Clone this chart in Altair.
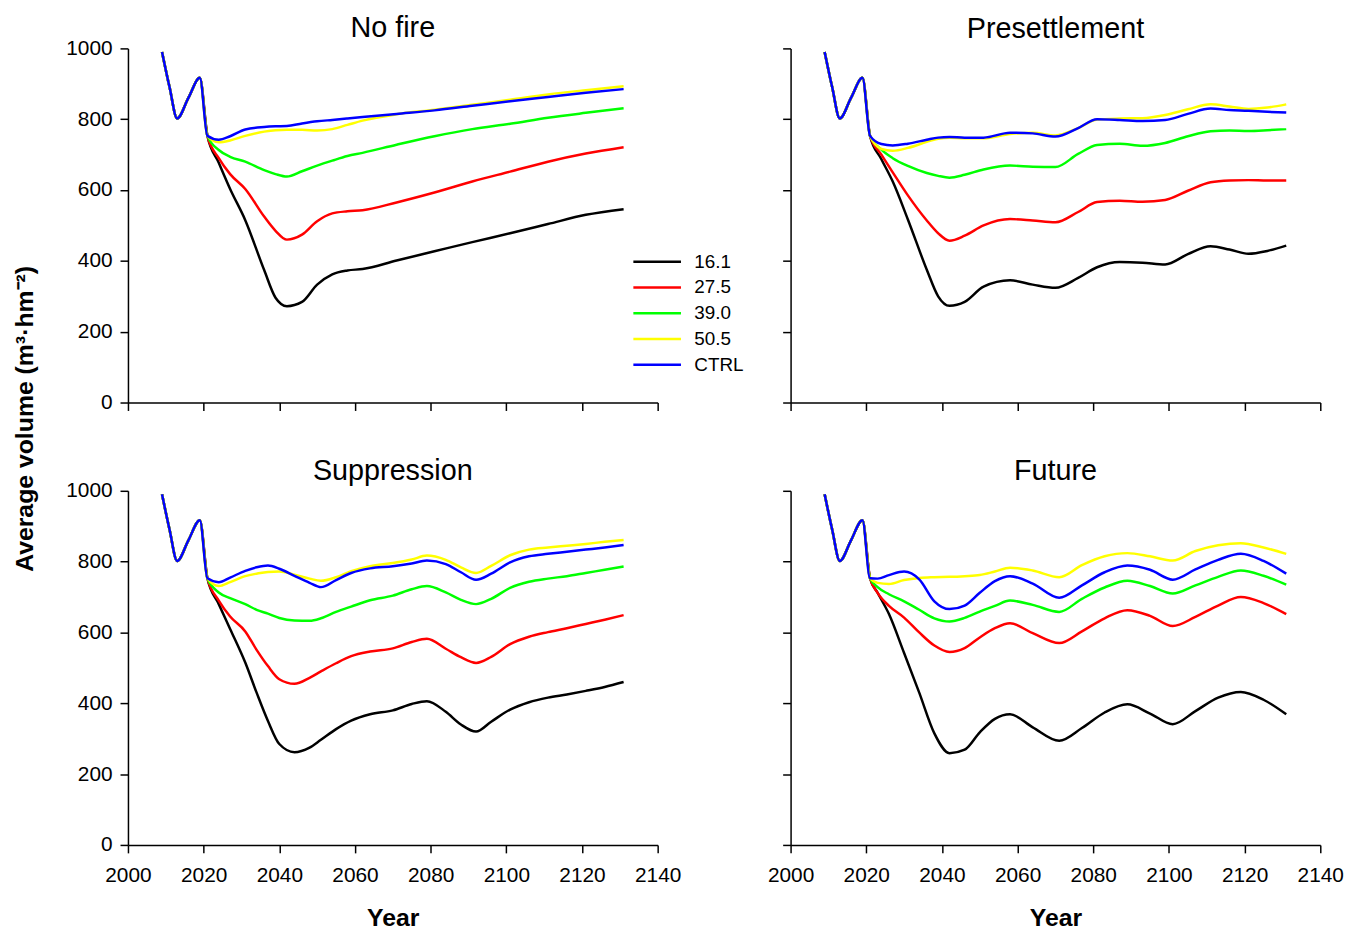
import altair as alt
import pandas as pd

# Fire-scenario levels and their line colours
SERIES = ["16.1", "27.5", "39.0", "50.5", "CTRL"]
COLORS = ["#000000", "#ff0000", "#00ff00", "#ffff00", "#0000ff"]

X_TICKS = [2000, 2020, 2040, 2060, 2080, 2100, 2120, 2140]
Y_TICKS = [0, 200, 400, 600, 800, 1000]

# Common trajectory before the scenarios diverge (identical for every series)
START_YEARS = [2009, 2011, 2013, 2016, 2019]
START_VALUES = [990, 890, 802, 861, 917]

# --- No fire ---
NOFIRE_YEARS = [2021, 2024, 2027, 2031, 2036, 2039, 2042, 2046, 2050, 2054, 2058,
                2062, 2071, 2081, 2091, 2101, 2111, 2121, 2131]
NOFIRE = {
    "16.1": [753, 677, 603, 515, 374, 296, 272, 284, 333, 362, 373, 377, 401, 427, 453, 478, 504, 530, 546],
    "27.5": [753, 690, 645, 603, 525, 485, 460, 474, 512, 534, 540, 543, 565, 593, 624, 652, 680, 703, 721],
    "39.0": [753, 713, 694, 680, 656, 645, 638, 653, 669, 683, 696, 705, 728, 752, 772, 787, 804, 818, 831],
    "50.5": [753, 735, 740, 753, 765, 769, 770, 770, 768, 772, 784, 796, 814, 827, 841, 855, 870, 882, 893],
    "CTRL": [753, 742, 752, 771, 778, 780, 781, 788, 794, 798, 802, 806, 815, 825, 838, 851, 863, 875, 885],
}

# --- Presettlement ---
PRESET_YEARS = [2021, 2024, 2027, 2031, 2036, 2039, 2042, 2046, 2051, 2058, 2064, 2070,
                2076, 2081, 2087, 2093, 2099, 2105, 2111, 2116, 2121, 2126, 2131]
PRESET = {
    "16.1": [753, 687, 624, 517, 375, 300, 273, 284, 327, 345, 333, 324, 352, 382, 397, 395, 390, 419, 441, 432, 420, 428, 443],
    "27.5": [753, 700, 650, 585, 514, 478, 457, 471, 500, 518, 514, 509, 538, 566, 570, 567, 572, 598, 622, 627, 628, 627, 627],
    "39.0": [753, 714, 690, 668, 648, 640, 635, 643, 658, 669, 666, 665, 702, 727, 731, 725, 733, 752, 766, 768, 767, 769, 772],
    "50.5": [753, 716, 711, 719, 736, 745, 748, 746, 746, 758, 762, 754, 775, 799, 802, 803, 812, 828, 842, 836, 829, 833, 842],
    "CTRL": [753, 730, 726, 731, 742, 748, 750, 748, 748, 762, 760, 751, 775, 800, 798, 795, 798, 815, 830, 826, 824, 821, 819],
}

# --- Suppression ---
SUPP_YEARS = [2021, 2024, 2027, 2031, 2034, 2037, 2040, 2044, 2048, 2051, 2055, 2059, 2064,
              2070, 2075, 2079, 2084, 2088, 2092, 2096, 2101, 2106, 2111, 2116, 2121, 2126, 2131]
SUPP = {
    "16.1": [753, 680, 610, 515, 430, 350, 285, 262, 275, 297, 327, 351, 369, 380, 398, 406, 376, 340, 320, 348, 382, 403, 416, 425, 435, 446, 460],
    "27.5": [753, 690, 645, 603, 551, 505, 468, 455, 472, 490, 513, 533, 546, 555, 573, 582, 554, 530, 514, 531, 567, 588, 601, 612, 624, 636, 649],
    "39.0": [753, 713, 697, 680, 664, 653, 641, 634, 633, 640, 658, 673, 691, 704, 722, 731, 713, 692, 680, 695, 726, 743, 752, 759, 768, 777, 786],
    "50.5": [753, 731, 742, 759, 766, 771, 772, 763, 752, 746, 756, 773, 787, 796, 806, 817, 805, 784, 768, 788, 818, 834, 840, 845, 850, 856, 861],
    "CTRL": [753, 742, 755, 774, 784, 789, 780, 760, 740, 728, 748, 768, 781, 787, 795, 803, 793, 770, 749, 766, 798, 815, 822, 828, 834, 840, 847],
}

# --- Future ---
FUT_YEARS = [2021, 2023, 2026, 2030, 2034, 2038, 2042, 2046, 2050, 2054, 2058, 2064,
             2071, 2077, 2083, 2089, 2095, 2101, 2107, 2113, 2119, 2125, 2131]
FUT = {
    "16.1": [753, 712, 652, 542, 430, 315, 259, 269, 318, 356, 369, 332, 294, 330, 374, 397, 371, 341, 378, 416, 432, 410, 369],
    "27.5": [753, 712, 675, 642, 600, 563, 545, 556, 586, 612, 626, 598, 570, 603, 640, 663, 647, 618, 644, 676, 700, 683, 652],
    "39.0": [753, 728, 708, 688, 664, 640, 631, 641, 659, 675, 690, 678, 658, 695, 727, 746, 731, 710, 733, 757, 775, 760, 735],
    "50.5": [753, 740, 737, 748, 754, 756, 757, 759, 762, 772, 783, 775, 756, 790, 815, 824, 815, 803, 830, 846, 852, 840, 822],
    "CTRL": [753, 752, 762, 772, 750, 688, 666, 676, 712, 745, 759, 738, 698, 733, 770, 789, 777, 749, 778, 805, 822, 802, 766],
}

FONT = "Liberation Sans"
PANEL_W, PANEL_H = 534, 357


def frame(years, values):
    rows = []
    for s in SERIES:
        for yr, v in zip(START_YEARS + years, START_VALUES + values[s]):
            rows.append({"year": yr, "volume": v, "series": s})
    return pd.DataFrame(rows)


def panel(name, years, values, bottom, left, legend=False, ytitle=False):
    x_axis = alt.Axis(values=X_TICKS, labels=bottom, format="d", labelPadding=12,
                      labelFlush=False,
                      titleFontSize=25, titleFontWeight="bold", titleFont=FONT,
                      titlePadding=20)
    if ytitle:
        y_axis = alt.Axis(values=Y_TICKS, labels=left, format="d", labelPadding=8,
                          labelFlush=False,
                          titleFontSize=25, titleFontWeight="bold", titleFont=FONT,
                          titleAngle=270, titleAlign="center", titleBaseline="middle",
                          titleX=-104, titleY=373)
    else:
        y_axis = alt.Axis(values=Y_TICKS, labels=left, format="d", labelPadding=8,
                          labelFlush=False)

    if legend:
        color_legend = alt.Legend(
            title=None, orient="none", legendX=508, legendY=205,
            symbolType="stroke", symbolSize=2304, symbolStrokeWidth=2.5,
            clipHeight=20, rowPadding=6, labelFontSize=19, labelFont=FONT,
            labelOffset=12, labelColor="black", padding=0,
        )
    else:
        color_legend = None

    # panels with y labels have taller bounds, so their titles need a lower offset
    title_offset = -29 if left else -20

    return alt.Chart(frame(years, values)).mark_line(
        interpolate="monotone", strokeWidth=2.5
    ).encode(
        x=alt.X("year:Q", scale=alt.Scale(domain=[2000, 2140], nice=False),
                axis=x_axis, title="Year" if bottom else None),
        y=alt.Y("volume:Q", scale=alt.Scale(domain=[0, 1000], nice=False),
                axis=y_axis,
                title="Average volume (m³·hm⁻²)" if ytitle else None),
        color=alt.Color("series:N", scale=alt.Scale(domain=SERIES, range=COLORS),
                        legend=color_legend),
        detail="series:N",
    ).properties(
        width=PANEL_W, height=PANEL_H,
        title=alt.TitleParams(name, fontSize=29, font=FONT, fontWeight="normal",
                              anchor="middle", baseline="alphabetic",
                              offset=title_offset, frame="group", color="black"),
    )


p1 = panel("No fire", NOFIRE_YEARS, NOFIRE, bottom=False, left=True, legend=True, ytitle=True)
p2 = panel("Presettlement", PRESET_YEARS, PRESET, bottom=False, left=False)
p3 = panel("Suppression", SUPP_YEARS, SUPP, bottom=True, left=True)
p4 = panel("Future", FUT_YEARS, FUT, bottom=True, left=False)

chart = alt.concat(
    p1, p2, p3, p4, columns=2,
    spacing=alt.RowColnumber(row=89, column=134), bounds="flush",
).resolve_scale(
    color="independent"
).properties(
    padding={"left": 13, "top": 11, "right": 12, "bottom": 0},
    background="white",
).configure_axis(
    domainColor="black", domainWidth=1.5, tickColor="black", tickWidth=1.5,
    tickSize=8, labelFont=FONT, labelFontSize=21, labelColor="black",
    titleColor="black", grid=False,
).configure_view(stroke=None)

chart.save("out.html", embed_options={"renderer": "svg", "actions": False})
